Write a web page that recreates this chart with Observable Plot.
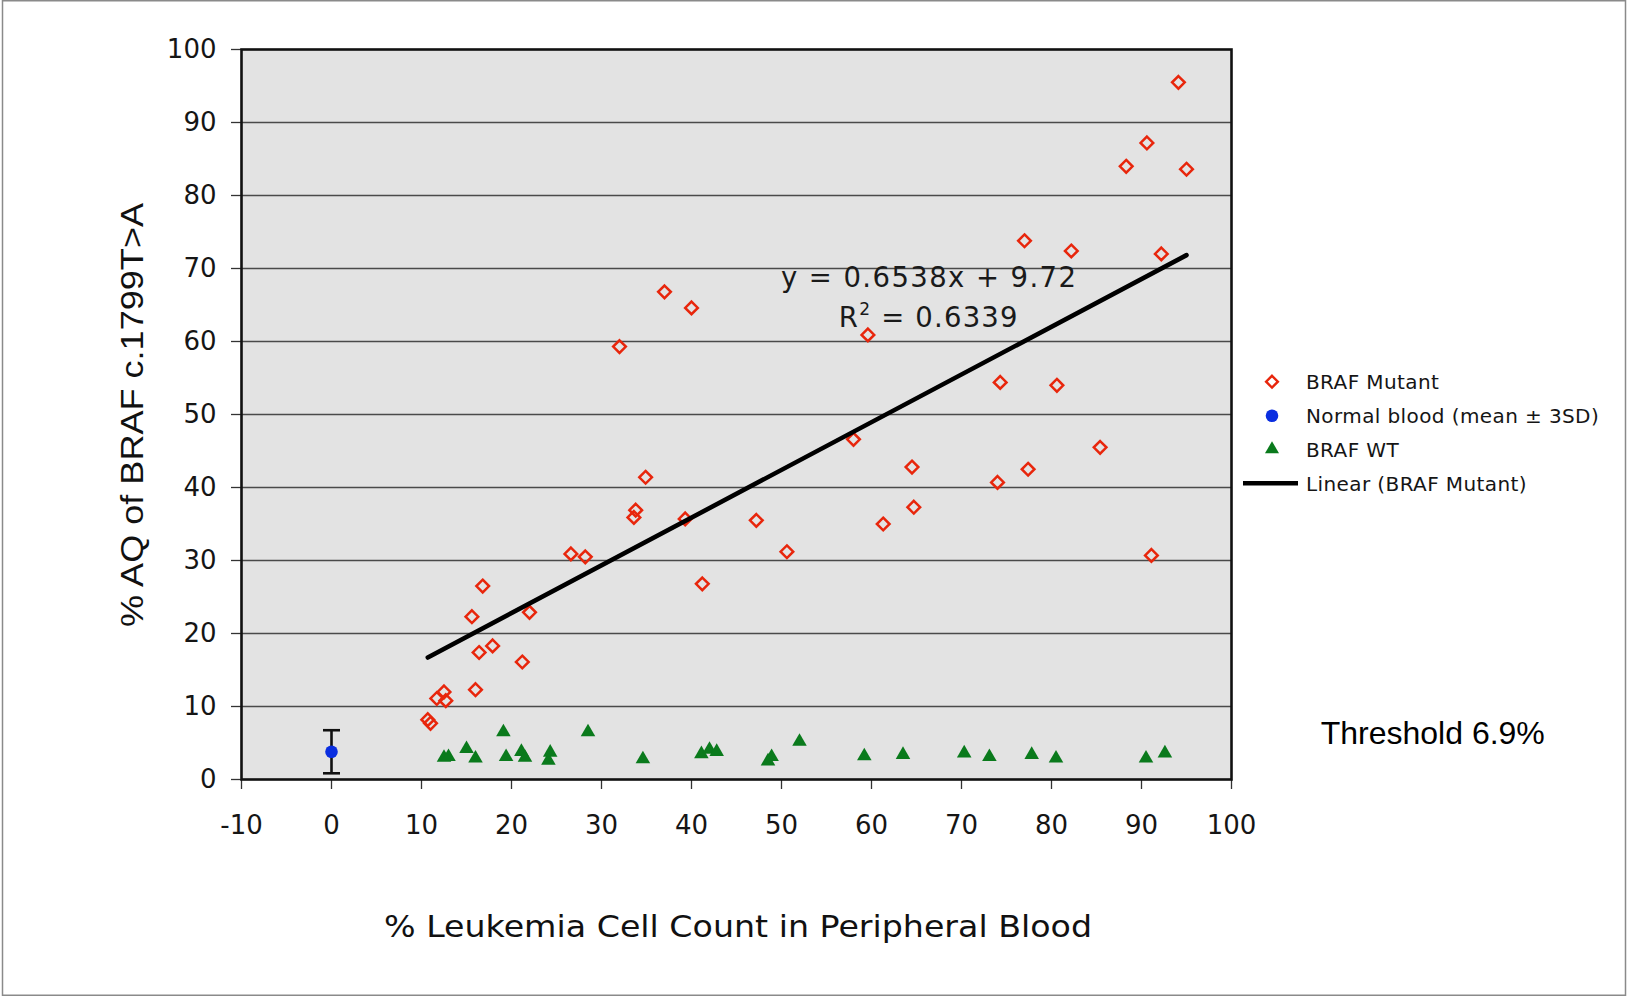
<!DOCTYPE html>
<html>
<head>
<meta charset="utf-8">
<script src="https://cdn.jsdelivr.net/npm/d3@7"></script>
<script src="https://cdn.jsdelivr.net/npm/@observablehq/plot@0.6"></script>
<style>
  html, body { margin: 0; padding: 0; background: #fff; }
  #chart { position: relative; width: 1627px; height: 997px; }
  #chart svg { display: block; overflow: visible; }
</style>
</head>
<body>
<div id="chart"></div>
<script>
// ---- Data ----
// BRAF Mutant samples: x = % leukemia cell count, y = % AQ
const mutantX = [10.7, 11.0, 11.7, 12.5, 12.7, 15.6, 16.0, 16.4, 16.8, 17.9, 21.2, 22.0, 26.6, 28.2,
                 32.0, 33.6, 33.8, 34.9, 37.0, 39.3, 40.0, 41.2, 47.2, 50.6, 58.0, 59.6, 61.3, 64.5,
                 64.7, 74.0, 74.3, 77.0, 77.4, 80.6, 82.2, 85.4, 88.3, 90.6, 91.1, 92.2, 94.1, 95.0];
const mutantY = [8.2, 7.7, 11.1, 12.0, 10.8, 22.3, 12.3, 17.4, 26.5, 18.3, 16.1, 22.9, 30.9, 30.5,
                 59.3, 35.9, 36.9, 41.4, 66.8, 35.7, 64.6, 26.8, 35.5, 31.2, 46.6, 60.9, 35.0, 42.8,
                 37.3, 40.7, 54.4, 73.8, 42.5, 54.0, 72.4, 45.5, 84.0, 87.2, 30.7, 72.0, 95.5, 83.6];
// BRAF WT samples
const wtX = [12.5, 13.0, 15.0, 16.0, 19.1, 19.4, 21.1, 21.5, 24.1, 24.3, 28.5, 34.6, 41.1,
             42.0, 42.8, 48.5, 48.9, 52.0, 59.2, 63.5, 70.3, 73.1, 77.8, 80.5, 90.5, 92.6];
const wtY = [3.0, 3.1, 4.2, 2.9, 6.5, 3.1, 3.8, 3.0, 2.6, 3.7, 6.5, 2.8, 3.5,
             4.1, 3.8, 2.5, 3.1, 5.2, 3.2, 3.4, 3.6, 3.1, 3.4, 2.9, 2.9, 3.6];
// Normal blood (mean ± 3SD)
const normalX = [0];
const normalMean = [3.8];
const normal3SD = [2.95];
// Linear trendline (BRAF Mutant)
const fitSlope = 0.6538;
const fitIntercept = 9.72;
const fitR2 = 0.6339;
// Axis ticks
const xTicks = [-10, 0, 10, 20, 30, 40, 50, 60, 70, 80, 90, 100];
const yTicks = [0, 10, 20, 30, 40, 50, 60, 70, 80, 90, 100];
// Texts
const xLabel = "% Leukemia Cell Count in Peripheral Blood";
const yLabel = "% AQ of BRAF c.1799T>A";
const legendLabels = ["BRAF Mutant", "Normal blood (mean \u00B1 3SD)", "BRAF WT", "Linear (BRAF Mutant)"];
const thresholdText = "Threshold 6.9%";

// ---- Build tables ----
const mutant = mutantX.map((x, i) => ({x, y: mutantY[i]}));
const wt = wtX.map((x, i) => ({x, y: wtY[i]}));
const normal = normalX.map((x, i) => ({x, y: normalMean[i], lo: normalMean[i] - normal3SD[i], hi: normalMean[i] + normal3SD[i]}));
const fitExtent = d3.extent(mutantX);
const fitLine = fitExtent.map(x => ({x, y: fitSlope * x + fitIntercept}));
const caps = normal.flatMap(d => [{x: d.x, y: d.lo}, {x: d.x, y: d.hi}]);

const RED = "#e8260c", GREEN = "#0a7a1c", BLUE = "#0a2ee0";
const capSymbol = {
  draw(ctx, size) {
    const w = Math.sqrt(size / Math.PI) * 1.7;
    ctx.moveTo(-w, 0); ctx.lineTo(w, 0);
  }
};

const chart = Plot.plot({
  width: 1627,
  height: 997,
  marginLeft: 241,
  marginRight: 396,
  marginTop: 49,
  marginBottom: 218,
  style: {fontFamily: "DejaVu Sans", fontSize: "26px", color: "#151515", background: "#fff"},
  x: {domain: [-10, 100]},
  y: {domain: [0, 100]},
  marks: [
    Plot.frame({fill: "#e3e3e3"}),
    Plot.ruleY(yTicks.filter(v => v > 0 && v < 100), {stroke: "#4a4a4a", strokeWidth: 1.4}),
    Plot.axisX({ticks: xTicks, tickFormat: d => String(d), tickSize: 10, tickPadding: 26, label: null, stroke: "#333", strokeWidth: 1.3}),
    Plot.axisY({ticks: yTicks, tickFormat: d => String(d), tickSize: 10, tickPadding: 15, label: null, stroke: "#333", strokeWidth: 1.3}),
    Plot.frame({stroke: "#111", strokeWidth: 2.6}),
    Plot.ruleX(normal, {x: "x", y1: "lo", y2: "hi", stroke: "#111", strokeWidth: 2.6}),
    Plot.dot(caps, {x: "x", y: "y", symbol: capSymbol, r: 5, stroke: "#111", strokeWidth: 2.6, fill: "none"}),
    Plot.dot(mutant, {x: "x", y: "y", symbol: "diamond2", r: 5.7, stroke: RED, strokeWidth: 2.5, fill: "none"}),
    Plot.dot(wt, {x: "x", y: "y", symbol: "triangle", r: 5.4, fill: GREEN, stroke: "none"}),
    Plot.dot(normal, {x: "x", y: "y", r: 6.3, fill: BLUE, stroke: "none"}),
    Plot.line(fitLine, {x: "x", y: "y", stroke: "#000", strokeWidth: 4.6})
  ]
});

document.getElementById("chart").appendChild(chart);

// ---- Annotations (real SVG text) ----
const svg = d3.select(chart);

// outer border
svg.append("rect").attr("x", 2.5).attr("y", 0.75).attr("width", 1623).attr("height", 994.5)
  .attr("fill", "none").attr("stroke", "#8a8a8a").attr("stroke-width", 1.5);

// y axis label
svg.append("text")
  .attr("transform", "translate(142.5,415) rotate(-90)")
  .attr("text-anchor", "middle")
  .attr("font-family", "Liberation Sans, Arial, sans-serif")
  .attr("font-size", 32)
  .attr("fill", "#111")
  .attr("textLength", 424)
  .attr("lengthAdjust", "spacingAndGlyphs")
  .text(yLabel);

// x axis label
svg.append("text")
  .attr("x", 738).attr("y", 937)
  .attr("text-anchor", "middle")
  .attr("font-family", "DejaVu Sans, sans-serif")
  .attr("font-size", 31)
  .attr("fill", "#111")
  .attr("textLength", 708)
  .attr("lengthAdjust", "spacingAndGlyphs")
  .text(xLabel);

// equation
svg.append("text")
  .attr("x", 928.5).attr("y", 286.7)
  .attr("text-anchor", "middle")
  .attr("font-family", "DejaVu Sans, sans-serif")
  .attr("font-size", 27.5)
  .attr("fill", "#1a1a1a")
  .attr("textLength", 295)
  .attr("lengthAdjust", "spacing")
  .text(`y = ${fitSlope}x + ${fitIntercept}`);
const r2 = svg.append("text")
  .attr("x", 928.8).attr("y", 326.7)
  .attr("text-anchor", "middle")
  .attr("font-family", "DejaVu Sans, sans-serif")
  .attr("font-size", 27.5)
  .attr("fill", "#1a1a1a")
  .attr("letter-spacing", 1.2);
r2.append("tspan").text("R");
r2.append("tspan").attr("dy", -12).attr("font-size", 17).text("2");
r2.append("tspan").attr("dy", 12).text(` = ${fitR2}`);

// legend
const lx = 1272, tx = 1306;
const rows = [381.7, 415.7, 449.3, 483.3];
svg.append("path").attr("transform", `translate(${lx},${rows[0]})`)
  .attr("d", d3.symbol(d3.symbolDiamond2, Math.PI * 5.3 * 5.3)())
  .attr("fill", "none").attr("stroke", RED).attr("stroke-width", 2.4);
svg.append("circle").attr("cx", lx).attr("cy", rows[1]).attr("r", 6.3).attr("fill", BLUE);
svg.append("path").attr("transform", `translate(${lx},${rows[2]})`)
  .attr("d", d3.symbol(d3.symbolTriangle, Math.PI * 5.2 * 5.2)())
  .attr("fill", GREEN);
svg.append("line").attr("x1", 1243).attr("x2", 1298).attr("y1", rows[3]).attr("y2", rows[3])
  .attr("stroke", "#000").attr("stroke-width", 4.6);
legendLabels.forEach((t, i) => {
  svg.append("text")
    .attr("x", tx).attr("y", rows[i])
    .attr("dy", "0.36em")
    .attr("text-anchor", "start")
    .attr("font-family", "DejaVu Sans, sans-serif")
    .attr("font-size", 20)
    .attr("letter-spacing", 0.4)
    .attr("fill", "#151515")
    .text(t);
});

// threshold note
svg.append("text")
  .attr("x", 1320.7).attr("y", 744.3)
  .attr("text-anchor", "start")
  .attr("font-family", "Liberation Sans, Arial, sans-serif")
  .attr("font-size", 32)
  .attr("fill", "#000")
  .text(thresholdText);
</script>
</body>
</html>
